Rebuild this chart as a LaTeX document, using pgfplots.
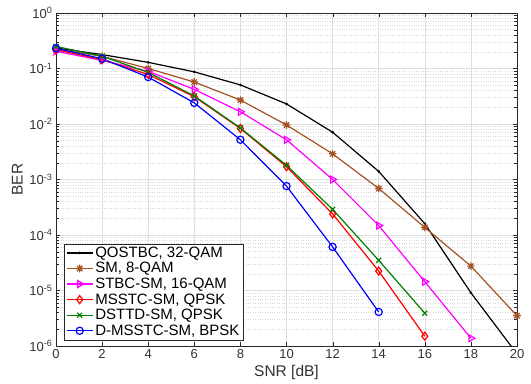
\documentclass[border=0pt]{standalone}
\usepackage{fontspec}
\setmainfont{Liberation Sans}
\usepackage{pgfplots}
\pgfplotsset{compat=1.18}
\definecolor{smbrown}{RGB}{165,82,36}
\definecolor{mgreen}{RGB}{0,128,0}
\definecolor{mmag}{RGB}{255,0,255}
\definecolor{mred}{RGB}{255,0,0}
\definecolor{mblue}{RGB}{0,0,255}
\definecolor{axgray}{RGB}{40,40,40}
\pgfdeclareplotmark{mstar}{%
 \pgfpathmoveto{\pgfqpoint{-\pgfplotmarksize}{0pt}}\pgfpathlineto{\pgfqpoint{\pgfplotmarksize}{0pt}}%
 \pgfpathmoveto{\pgfqpoint{0pt}{-\pgfplotmarksize}}\pgfpathlineto{\pgfqpoint{0pt}{\pgfplotmarksize}}%
 \pgfpathmoveto{\pgfqpoint{-.707\pgfplotmarksize}{-.707\pgfplotmarksize}}\pgfpathlineto{\pgfqpoint{.707\pgfplotmarksize}{.707\pgfplotmarksize}}%
 \pgfpathmoveto{\pgfqpoint{-.707\pgfplotmarksize}{.707\pgfplotmarksize}}\pgfpathlineto{\pgfqpoint{.707\pgfplotmarksize}{-.707\pgfplotmarksize}}%
 \pgfusepathqstroke}
\begin{document}
\begin{tikzpicture}
\begin{axis}[
 name=ax,
 scale only axis, width=461pt, height=333pt,
 ymode=log, xmin=0, xmax=20, ymin=1e-6, ymax=1,
 xtick={0,2,...,20},
 ytick={1e-6,1e-5,1e-4,1e-3,1e-2,1e-1,1},
 yticklabels={10\textsuperscript{-6},10\textsuperscript{-5},10\textsuperscript{-4},10\textsuperscript{-3},10\textsuperscript{-2},10\textsuperscript{-1},10\textsuperscript{0}},
 /pgf/number format/assume math mode=true,
 grid=both,
 major grid style={gray!25, line width=0.5pt},
 minor grid style={gray!30, dotted, line width=0.5pt},
 axis line style={axgray, line width=0.5pt},
 tick style={axgray},
 tick align=inside,
 ticklabel style={font=\fontsize{13}{15}\selectfont, text=black!80},
 label style={font=\fontsize{15.5}{18}\selectfont, text=black!80},
 xlabel={SNR [dB]}, ylabel={BER},
 legend cell align=left,
 legend style={at={(0.017,0.018)}, anchor=south west, font=\fontsize{15}{16}\selectfont, draw=axgray, line width=0.5pt, inner xsep=2pt, inner ysep=1pt, row sep=-0.4pt},
 legend image code/.code={\draw[mark repeat=2,mark phase=2,#1] plot coordinates {(0pt,0pt) (13pt,0pt) (26pt,0pt)};},
 every axis plot/.append style={line width=1.2pt},
 clip=true,
]
\addplot[black, mark=*, mark size=0.6pt] coordinates {
(0,0.234) (2,0.178) (4,0.129) (6,0.087) (8,0.0506) (10,0.023) (12,0.0071) (14,0.0014) (16,1.6e-4) (18,9.1e-6) (20,7.2e-7)};
\addlegendentry{QOSTBC, 32-QAM}
\addplot[smbrown, mark=mstar, mark size=3.8pt, mark options={line width=1.2pt}] coordinates {
(0,0.225) (2,0.166) (4,0.1) (6,0.057) (8,0.027) (10,0.0096) (12,0.0029) (14,6.9e-4) (16,1.37e-4) (18,2.75e-5) (20,3.5e-6)};
\addlegendentry{SM, 8-QAM}
\addplot[mmag, mark=triangle, mark size=4pt, mark options={rotate=-90, line width=1.2pt}] coordinates {
(0,0.204) (2,0.14) (4,0.089) (6,0.042) (8,0.0166) (10,0.0052) (12,1.0e-3) (14,1.48e-4) (16,1.44e-5) (18,1.38e-6)};
\addlegendentry{STBC-SM, 16-QAM}
\addplot[mred, mark=diamond, mark size=4pt, mark options={line width=1.2pt}] coordinates {
(0,0.218) (2,0.145) (4,0.078) (6,0.031) (8,0.0083) (10,0.0017) (12,2.4e-4) (14,2.24e-5) (16,1.5e-6)};
\addlegendentry{MSSTC-SM, QPSK}
\addplot[mgreen, mark=x, mark size=3.5pt, mark options={line width=1.2pt}] coordinates {
(0,0.25) (2,0.166) (4,0.085) (6,0.032) (8,0.0085) (10,0.0018) (12,2.9e-4) (14,3.5e-5) (16,3.9e-6)};
\addlegendentry{DSTTD-SM, QPSK}
\addplot[mblue, mark=o, mark size=3.6pt, mark options={line width=1.2pt}] coordinates {
(0,0.231) (2,0.15) (4,0.07) (6,0.024) (8,0.0052) (10,7.6e-4) (12,6.1e-5) (14,4.1e-6)};
\addlegendentry{D-MSSTC-SM, BPSK}
\end{axis}
\pgfresetboundingbox
\path[use as bounding box] ([shift={(-56pt,-38pt)}]ax.south west) rectangle ([shift={(14pt,13pt)}]ax.north east);
\end{tikzpicture}
\end{document}
